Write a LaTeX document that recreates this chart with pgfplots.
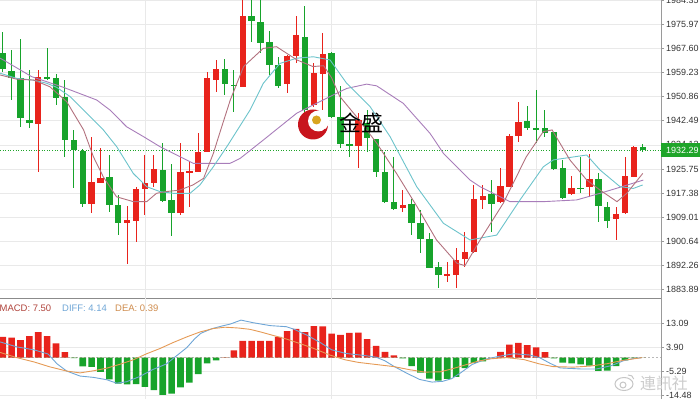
\documentclass[border=0pt]{standalone}
\usepackage{fontspec}
\setmainfont{Liberation Sans}
\newfontfamily\cjk{Noto Sans CJK SC}
\usepackage{pgfplots}
\pgfplotsset{compat=1.18}
\usepackage{pgfplotstable}

\definecolor{cRed}{HTML}{E8231C}
\definecolor{cGreen}{HTML}{17A32B}
\definecolor{maFast}{HTML}{B2717E}
\definecolor{maMid}{HTML}{6CC3CB}
\definecolor{maSlow}{HTML}{A87DBA}
\definecolor{diffC}{HTML}{6FA6D6}
\definecolor{deaC}{HTML}{E59A55}
\definecolor{gridC}{HTML}{E9E9E9}
\definecolor{axisC}{HTML}{9A9A9A}
\definecolor{lblC}{HTML}{333333}
\definecolor{priceG}{HTML}{1FA52A}
\definecolor{macdT}{HTML}{B0443C}
\definecolor{logoRed}{HTML}{C8161E}
\definecolor{logoGold}{HTML}{D9A520}

\pgfplotstableread{
i o h l c
4 1941.4 1960.1 1924.8 1957.8
10 1913.5 1937.0 1910.3 1921.1
11 1921.0 1933.1 1920.9 1922.7
14 1907.1 1912.9 1892.7 1907.9
15 1907.8 1919.6 1900.5 1918.8
16 1918.7 1930.6 1909.8 1921.0
17 1920.8 1930.6 1919.6 1925.7
20 1910.3 1934.6 1909.8 1924.8
21 1924.6 1928.0 1912.7 1925.0
22 1924.8 1938.4 1924.6 1931.8
23 1931.8 1959.5 1931.5 1957.2
24 1956.6 1963.6 1952.6 1960.5
27 1954.3 1986.0 1954.1 1978.9
32 1955.1 1965.3 1952.0 1965.0
33 1965.0 1978.9 1962.4 1972.3
35 1948.0 1962.4 1947.4 1959.0
36 1958.7 1972.8 1946.2 1965.7
40 1933.7 1945.1 1926.0 1942.7
45 1912.1 1918.4 1910.9 1913.4
50 1888.7 1893.6 1886.6 1889.3
51 1888.9 1898.2 1884.5 1894.1
52 1894.4 1904.0 1891.8 1897.0
53 1897.0 1920.2 1896.5 1915.2
54 1915.0 1920.2 1911.7 1916.4
56 1914.4 1926.0 1913.8 1919.8
57 1919.6 1937.9 1919.4 1937.2
58 1937.2 1949.1 1935.2 1942.2
64 1916.9 1923.3 1916.7 1919.3
66 1919.4 1930.8 1916.1 1922.1
69 1908.3 1912.7 1901.1 1910.0
70 1910.3 1930.0 1910.1 1923.3
71 1923.1 1933.8 1922.9 1933.5
}\upc

\pgfplotstableread{
i o h l c
0 1965.9 1973.2 1959.5 1960.5
1 1959.8 1967.1 1949.7 1957.2
2 1957.2 1970.9 1940.4 1943.3
3 1942.7 1960.1 1939.9 1941.6
5 1957.7 1967.6 1956.6 1957.2
6 1957.4 1958.7 1948.0 1950.3
7 1950.7 1956.6 1930.0 1935.8
8 1935.8 1939.3 1919.0 1932.3
9 1932.1 1932.6 1912.4 1913.5
12 1923.1 1930.6 1910.9 1913.2
13 1913.2 1916.7 1902.8 1906.9
18 1925.4 1934.9 1914.4 1914.7
19 1915.0 1927.4 1902.5 1910.3
25 1960.3 1963.8 1951.4 1955.2
26 1954.9 1960.1 1945.6 1954.6
28 1978.9 1986.0 1969.9 1977.1
29 1976.7 1985.0 1965.9 1969.4
30 1969.9 1973.8 1958.4 1961.8
31 1961.8 1964.7 1953.7 1954.6
34 1971.7 1982.3 1945.1 1946.2
37 1965.9 1966.2 1943.3 1943.9
38 1943.9 1954.6 1932.9 1934.6
39 1934.6 1941.0 1930.0 1933.7
41 1941.8 1946.2 1931.8 1936.4
42 1936.0 1936.3 1923.1 1924.8
43 1924.8 1931.8 1913.8 1914.2
44 1914.4 1930.0 1911.5 1911.7
46 1913.5 1915.2 1902.8 1906.9
47 1906.9 1911.5 1896.5 1901.3
48 1901.3 1903.6 1891.2 1891.5
49 1891.8 1893.6 1884.5 1888.9
55 1916.9 1921.9 1904.0 1913.6
59 1942.4 1947.6 1939.3 1939.9
60 1940.1 1953.2 1934.6 1939.5
61 1940.1 1946.2 1937.0 1938.4
62 1938.5 1938.7 1925.4 1925.6
63 1926.0 1928.9 1915.3 1915.8
65 1919.3 1930.0 1917.3 1918.8
67 1922.3 1924.2 1907.4 1912.9
68 1912.7 1914.4 1905.4 1907.8
72 1933.5 1934.4 1931.8 1932.3
}\downc

\pgfplotstableread{
i p
-0.3 1958.4
1.6 1956.9
3.5 1956.6
5.3 1954.3
7.2 1949.1
9.1 1939.3
10.2 1930.0
11.3 1923.1
12.8 1916.1
14.7 1914.4
16.2 1914.4
17.3 1917.3
18.4 1917.9
19.9 1918.4
21.4 1920.2
22.6 1922.5
23.7 1931.2
24.4 1938.1
25.6 1949.7
27.1 1961.3
29.3 1967.6
30.8 1968.2
33.1 1963.6
34.9 1961.3
36.1 1961.6
37.0 1957.4
37.9 1951.0
39.8 1943.9
42.1 1934.6
44.3 1924.2
46.6 1912.7
48.8 1901.1
51.1 1893.0
52.0 1892.2
53.7 1901.1
56.3 1913.8
58.9 1930.0
60.8 1938.7
61.8 1939.3
63.8 1928.9
65.7 1921.9
67.2 1918.4
69.1 1914.4
70.2 1917.3
72.0 1924.2
}\mafast

\pgfplotstableread{
i p
-0.3 1959.0
1.57 1957.2
3.45 1956.6
4.95 1955.5
6.07 1954.1
7.57 1950.9
9.44 1945.1
11.32 1939.3
12.82 1933.5
14.69 1924.2
16.19 1919.6
17.69 1917.9
19.19 1917.3
21.07 1917.3
22.19 1920.2
23.69 1926.5
25.3 1933.9
27.82 1946.2
29.32 1955.5
31.19 1962.4
33.07 1964.2
34.94 1964.7
36.82 1963.6
38.69 1955.5
41.32 1947.4
43.57 1937.0
46.57 1919.6
49.57 1906.9
52.57 1901.1
55.57 1902.8
58.19 1915.0
60.81 1926.5
61.94 1928.9
65.69 1930.6
67.19 1925.4
69.44 1919.6
70.94 1919.0
71.99 1920.2
}\mamid

\pgfplotstableread{
i p
-0.3 1964.2
0.07 1963.6
3.26 1957.8
6.82 1954.1
10.57 1949.7
12.07 1946.2
13.94 1940.4
15.82 1937.0
17.69 1933.5
19.57 1930.6
21.44 1927.7
22.94 1927.7
25.57 1927.7
26.7 1929.4
29.32 1935.8
33.07 1945.1
36.82 1950.9
38.69 1953.7
40.94 1955.2
42.07 1954.6
45.07 1948.5
48.07 1938.1
49.57 1931.2
51.44 1925.4
52.57 1921.9
53.69 1919.6
57.06 1914.4
60.81 1914.4
64.57 1915.0
67.19 1917.3
69.44 1919.4
72.06 1921.9
}\maslow

\pgfplotstableread{
i v
0 7.9
1 7.6
2 6.7
3 8.2
4 9.7
5 8.2
6 5.4
7 2.1
8 -0.2
9 -3.3
10 -3.5
11 -5.4
12 -8.3
13 -9.9
14 -10.2
15 -10.1
16 -11.1
17 -12.4
18 -14.2
19 -13.7
20 -11.3
21 -9.5
22 -6.3
23 -2.2
24 -1.0
25 0.1
26 2.8
27 6.4
28 6.4
29 6.4
30 6.4
31 7.9
32 10.1
33 11.0
34 9.7
35 12.0
36 11.9
37 9.2
38 8.7
39 9.4
40 9.5
41 7.1
42 4.5
43 2.2
44 0.9
45 -0.3
46 -3.2
47 -5.7
48 -8.0
49 -8.7
50 -8.1
51 -7.3
52 -4.0
53 -2.0
54 -1.4
55 0.0
56 2.2
57 5.0
58 5.6
59 4.8
60 3.9
61 2.1
62 -0.3
63 -1.9
64 -2.2
65 -2.6
66 -3.0
67 -5.0
68 -4.9
69 -3.2
70 -1.0
71 -0.2
72 0.0
}\macd

\pgfplotstableread{
i v
-0.3 6.0
1.6 4.1
3.5 3.0
5.1 1.4
6.1 -2.3
7.2 -5.1
8.7 -7.0
10.2 -7.5
11.7 -8.4
12.8 -9.7
13.9 -9.2
15.4 -7.2
16.9 -4.5
18.4 -2.4
19.4 0.3
20.7 3.8
21.6 7.2
22.3 9.3
23.5 11.0
24.6 12.0
25.6 12.8
26.8 14.3
28.2 13.3
30.1 12.2
31.9 11.8
32.8 10.8
34.2 8.6
35.7 5.8
37.0 3.0
38.6 1.6
40.5 0.9
42.0 0.2
43.0 -1.2
44.0 -3.3
45.5 -6.0
46.9 -8.3
48.3 -9.3
49.5 -9.0
50.5 -8.0
51.5 -5.8
52.8 -2.6
54.3 -0.6
55.8 0.5
57.5 1.5
59.3 1.0
60.4 0.0
61.6 -2.2
62.7 -3.9
65.0 -4.3
66.8 -4.3
68.5 -3.0
69.8 -1.2
71.0 -0.3
71.9 0.0
}\diff

\pgfplotstableread{
i v
-0.3 2.0
1.6 0.0
3.5 -1.6
5.3 -3.5
7.2 -5.1
8.7 -5.8
10.2 -5.0
11.7 -4.0
13.2 -2.5
14.7 -0.8
16.2 1.5
17.7 3.5
19.2 5.8
20.7 7.9
22.2 9.8
23.7 11.1
25.0 11.6
26.5 11.3
27.8 10.8
29.0 9.8
30.5 8.4
32.0 7.0
33.5 5.3
35.0 3.5
36.8 1.0
38.5 -0.8
40.0 -1.8
42.0 -2.6
44.0 -3.4
45.8 -4.6
47.5 -5.5
49.2 -5.4
50.5 -4.3
52.0 -2.8
53.5 -1.3
55.0 -0.4
56.7 0.0
58.6 -0.7
60.4 -2.4
61.9 -3.4
64.2 -3.6
66.1 -3.2
68.0 -2.3
69.8 -1.0
71.9 0.0
}\dea

\pgfplotsset{
  panel/.style={
    scale only axis, width=661bp,
    xmin=-0.304, xmax=74.05,
    axis y line*=right,
    y axis line style={draw=axisC, line width=0.8bp},
    xtick=\empty,
    ymajorgrids, major grid style={gridC, line width=0.6bp},
    tick align=outside, major tick length=3bp,
    tick style={axisC, line width=0.6bp},
    yticklabel style={font=\fontsize{9}{10}\selectfont, text=lblC, inner sep=0pt, anchor=west, xshift=2bp},
    clip mode=individual,
  },
  wick/.style={draw=none, mark=none, forget plot,
    error bars/.cd, y dir=both, y explicit, error mark=none,
    error bar style={draw=#1, line width=1bp}},
  body/.style={draw=none, mark=none, forget plot,
    error bars/.cd, y dir=both, y explicit, error mark=none,
    error bar style={draw=#1, line width=6.4bp}},
}

\begin{document}
\begin{tikzpicture}
\begin{axis}[panel,
  at={(0bp,100.7bp)}, anchor=south west, height=298.3bp,
  ymin=1880.85, ymax=1984.41,
  axis x line*=bottom,
  x axis line style={draw=axisC!90!black, line width=1.2bp},
  ytick={1883.89,1892.26,1900.64,1909.01,1917.38,1925.75,1934.12,1942.49,1950.86,1959.23,1967.60,1975.97,1984.35},
  yticklabels={1883.89,1892.26,1900.64,1909.01,1917.38,1925.75,1934.12,1942.49,1950.86,1959.23,1967.60,1975.97,1984.35},
]
\draw[gridC, line width=0.6bp] (axis cs:16,1880.85) -- (axis cs:16,1984.41);
\draw[gridC, line width=0.6bp] (axis cs:37,1880.85) -- (axis cs:37,1984.41);
\draw[gridC, line width=0.6bp] (axis cs:60,1880.85) -- (axis cs:60,1984.41);
\addplot[priceG, line width=0.8bp, dash pattern=on 1bp off 1.6bp, forget plot] coordinates {(-0.304,1932.29) (74.05,1932.29)};
\addplot[wick=cRed] table[x=i, y expr={(\thisrow{h}+\thisrow{l})/2}, y error expr={(\thisrow{h}-\thisrow{l})/2}] {\upc};
\addplot[wick=cGreen] table[x=i, y expr={(\thisrow{h}+\thisrow{l})/2}, y error expr={(\thisrow{h}-\thisrow{l})/2}] {\downc};
\addplot[body=cRed] table[x=i, y expr={(\thisrow{o}+\thisrow{c})/2}, y error expr={max(abs(\thisrow{c}-\thisrow{o})/2,0.25)}] {\upc};
\addplot[body=cGreen] table[x=i, y expr={(\thisrow{o}+\thisrow{c})/2}, y error expr={max(abs(\thisrow{c}-\thisrow{o})/2,0.25)}] {\downc};
\addplot[maSlow, line width=0.9bp, mark=none] table[x=i, y=p] {\maslow};
\addplot[maMid, line width=0.9bp, mark=none] table[x=i, y=p] {\mamid};
\addplot[maFast, line width=0.9bp, mark=none] table[x=i, y=p] {\mafast};
\coordinate (pricebox) at (axis cs:74.05,1932.29);
\end{axis}

\begin{axis}[panel,
  at={(0bp,0bp)}, anchor=south west, height=100.7bp,
  ymin=-15.74, ymax=22.61,
  axis x line=none,
  ytick={-14.48,-5.29,3.90,13.09},
  yticklabels={-14.48,-5.29,3.90,13.09},
]
\draw[gridC, line width=0.6bp] (axis cs:16,-15.74) -- (axis cs:16,22.61);
\draw[gridC, line width=0.6bp] (axis cs:37,-15.74) -- (axis cs:37,22.61);
\draw[gridC, line width=0.6bp] (axis cs:60,-15.74) -- (axis cs:60,22.61);
\draw[axisC!70, line width=0.5bp, dash pattern=on 2bp off 2bp] (axis cs:-0.304,0) -- (axis cs:74.05,0);
\addplot[ybar, bar width=6.6bp, bar shift=0pt, fill=cRed, draw=none] table[x=i, y expr={max(\thisrow{v},0)}] {\macd};
\addplot[ybar, bar width=6.6bp, bar shift=0pt, fill=cGreen, draw=none] table[x=i, y expr={min(\thisrow{v},0)}] {\macd};
\addplot[diffC, line width=0.9bp, mark=none] table[x=i, y=v] {\diff};
\addplot[deaC, line width=0.9bp, mark=none] table[x=i, y=v] {\dea};
\end{axis}

% current price label
\node[fill=priceG, text=white, font=\fontsize{9}{10}\selectfont, anchor=west, inner xsep=5bp, inner ysep=0pt, minimum height=13.3bp] at (pricebox) {1932.29};

% MACD legend
\begin{scope}[font=\fontsize{9.5}{11}\selectfont]
\node[anchor=base west, inner sep=0pt, text=macdT] at (-0.5bp,87.4bp) {MACD: 7.50};
\node[anchor=base west, inner sep=0pt, text=diffC] at (62bp,87.4bp) {DIFF: 4.14};
\node[anchor=base west, inner sep=0pt, text=deaC!90!black] at (115bp,87.4bp) {DEA: 0.39};
\end{scope}

% watermark logo
\fill[logoRed] (313bp,274.5bp) circle[radius=15bp];
\fill[white] (318.5bp,278bp) circle[radius=10.5bp];
\fill[logoRed] (318bp,276bp) ++(-40:9bp) arc[start angle=-40, end angle=-120, radius=9bp] -- ++(0,-1.5bp) arc[start angle=-120, end angle=-40, radius=10.5bp] -- cycle;
\fill[logoGold] (316.5bp,279bp) circle[radius=4.5bp];
\node[font=\cjk\fontsize{22}{24}\selectfont, text=black, inner sep=0pt] at (361bp,276.5bp) {金盛};

% bottom-right watermark
\begin{scope}[gray!45, line width=1bp]
\draw (624bp,15bp) ellipse[x radius=9bp, y radius=6.5bp];
\draw (623bp,14bp) circle[radius=3bp];
\draw (628bp,24bp) arc[start angle=100, end angle=10, radius=5bp];
\end{scope}
\node[font=\cjk\fontsize{16}{18}\selectfont, text=gray!40, inner sep=0pt] at (664bp,16bp) {連訊社};

\pgfresetboundingbox
\path (0bp,0bp) rectangle (700bp,399bp);
\end{tikzpicture}
\end{document}
